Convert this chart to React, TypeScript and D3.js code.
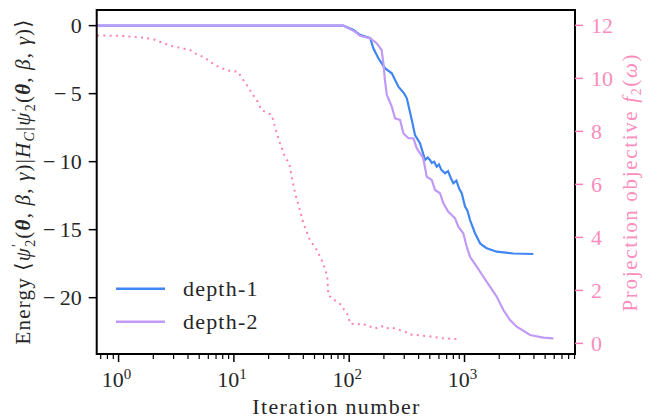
import React from 'react'
import * as d3 from 'd3'

// iteration / energy for the two circuit depths (left axis)
const depth1Iter = [0.65, 89, 109, 124, 152, 162, 179, 204, 234, 267, 300, 316, 349, 372, 411, 430, 455, 480, 502, 520, 545, 574, 600, 630, 678, 720, 760, 800, 850, 900, 946, 1010, 1060, 1116, 1233, 1364, 1460, 1559, 1902, 2651, 3953]
const depth1Energy = [0, 0, -0.32, -0.68, -0.92, -1.66, -2.4, -3.13, -3.5, -4.49, -5.0, -5.34, -6.93, -8.04, -8.65, -9.2, -9.87, -9.7, -9.87, -10.1, -10.0, -10.37, -10.2, -10.6, -10.85, -10.7, -11.2, -11.59, -11.4, -12.0, -12.32, -13.3, -13.6, -14.29, -15.26, -16.0, -16.2, -16.37, -16.62, -16.75, -16.79]

const depth2Iter = [0.65, 89, 112, 124, 152, 173, 191, 198, 204, 212, 234, 250, 276, 295, 326, 360, 385, 439, 470, 520, 555, 613, 655, 724, 828, 884, 976, 1045, 1116, 1276, 1456, 1664, 1902, 2172, 2482, 2837, 3699, 4823, 5893]
const depth2Energy = [0, 0, -0.44, -0.74, -0.93, -1.29, -1.79, -2.77, -3.99, -5.1, -5.95, -6.81, -6.93, -7.91, -8.28, -8.28, -9.01, -9.75, -11.1, -11.35, -12.08, -12.32, -13.06, -13.68, -14.16, -14.78, -15.27, -16.25, -16.99, -17.72, -18.46, -19.19, -19.93, -20.91, -21.64, -22.13, -22.74, -22.94, -22.99]

// projection objective (right axis)
const projIter = [0.65, 1.1, 1.59, 2.0, 2.29, 2.89, 3.64, 4.16, 4.6, 5.61, 6.86, 8.66, 10.9, 11.5, 13.3, 14.1, 15.8, 17.4, 21.3, 22.7, 25.1, 27.7, 30.2, 31.7, 33.9, 37.4, 40, 45.7, 52.2, 59.6, 64.6, 65.9, 78, 86, 92, 98, 101.6, 116, 132, 142, 157, 167, 191, 204, 234, 267, 305, 337, 411, 536, 655, 914]
const projValue = [11.62, 11.6, 11.54, 11.48, 11.38, 11.22, 11.13, 11.07, 10.94, 10.78, 10.5, 10.31, 10.25, 10.06, 9.68, 9.47, 9.18, 8.8, 8.62, 8.17, 7.56, 7.04, 6.79, 6.29, 5.67, 5.03, 4.53, 3.9, 3.53, 3.02, 2.51, 1.82, 1.57, 1.45, 1.19, 1.07, 0.75, 0.71, 0.75, 0.65, 0.62, 0.56, 0.65, 0.56, 0.6, 0.52, 0.44, 0.34, 0.3, 0.25, 0.19, 0.16]

const leftTicks = [0, -5, -10, -15, -20]
const rightTicks = [0, 2, 4, 6, 8, 10, 12]
const xMajor = [1, 10, 100, 1000]

const W = 657
const H = 418
const M = { left: 96.7, right: 575, top: 10, bottom: 354 }
const FONT = "'Liberation Serif', 'DejaVu Serif', serif"
const BLUE = '#3f86f2'
const PURPLE = '#c09af6'
const PINK = '#ff7fb5'
const PINK_TXT = '#fa8dbd'
const INK = '#262626'

export default function App() {
  const x = d3.scaleLog().domain([0.646, 9080]).range([M.left, M.right])
  const yL = d3.scaleLinear().domain([-24.14, 1.15]).range([M.bottom, M.top])
  const yR = d3.scaleLinear().domain([-0.4, 12.58]).range([M.bottom, M.top])

  const lineL = d3.line<[number, number]>().x(d => x(d[0])).y(d => yL(d[1]))
  const lineR = d3.line<[number, number]>().x(d => x(d[0])).y(d => yR(d[1]))
  const zip = (a: number[], b: number[]) => a.map((v, i) => [v, b[i]] as [number, number])

  const minor: number[] = []
  for (let e = -1; e <= 3; e++) {
    for (let k = 2; k <= 9; k++) {
      const v = k * Math.pow(10, e)
      if (v >= 0.646 && v <= 9080) minor.push(v)
    }
  }

  return (
    <svg width={W} height={H} style={{ position: 'absolute', left: 0, top: 0, background: '#fff' }} fontFamily={FONT}>
      <defs>
        <clipPath id="plot">
          <rect x={M.left} y={M.top} width={M.right - M.left} height={M.bottom - M.top} />
        </clipPath>
      </defs>

      <g clipPath="url(#plot)">
        <path d={lineR(zip(projIter, projValue)) || ''} fill="none" stroke={PINK} strokeWidth={2} strokeDasharray="2 4.3" />
        <path d={lineL(zip(depth1Iter, depth1Energy)) || ''} fill="none" stroke={BLUE} strokeWidth={2.2} />
        <path d={lineL(zip(depth2Iter, depth2Energy)) || ''} fill="none" stroke={PURPLE} strokeWidth={2.2} />
      </g>

      {/* spines */}
      <rect x={M.left} y={M.top} width={M.right - M.left} height={M.bottom - M.top} fill="none" stroke="#000" strokeWidth={2} />

      {/* x axis */}
      {minor.map(v => (
        <line key={'m' + v} x1={x(v)} x2={x(v)} y1={M.bottom} y2={M.bottom + 5} stroke="#000" strokeWidth={1.2} />
      ))}
      {xMajor.map((v, i) => (
        <g key={'x' + v}>
          <line x1={x(v)} x2={x(v)} y1={M.bottom} y2={M.bottom + 8} stroke="#000" strokeWidth={1.5} />
          <text x={x(v) - 2} y={387} fontSize={22} textAnchor="middle" fill={INK}>
            10<tspan fontSize={15} dy={-8}>{i}</tspan>
          </text>
        </g>
      ))}
      <text x={(M.left + M.right) / 2} y={414} fontSize={22} textAnchor="middle" fill={INK} textLength={167} lengthAdjust="spacing">Iteration number</text>

      {/* left axis */}
      {leftTicks.map(v => (
        <g key={'l' + v}>
          <line x1={M.left - 8} x2={M.left} y1={yL(v)} y2={yL(v)} stroke="#000" strokeWidth={1.5} />
          <text x={M.left - 15} y={yL(v) + 7.5} fontSize={22} textAnchor="end" fill={INK}>
            {v < 0 ? '\u2212\u2009' + Math.abs(v) : v}
          </text>
        </g>
      ))}
      <text transform={`translate(30,182) rotate(-90)`} fontSize={21} textAnchor="middle" fill={INK} textLength={325} lengthAdjust="spacing">
        Energy{'  \u27E8'}
        <tspan fontStyle="italic">ψ</tspan>
        <tspan fontSize={14} dy={-8}>′</tspan>
        <tspan fontSize={14} dy={13} dx={-4}>2</tspan>
        <tspan dy={-5}>(</tspan>
        <tspan fontWeight="bold" fontStyle="italic">θ</tspan>
        <tspan>, </tspan>
        <tspan fontStyle="italic">β</tspan>
        <tspan>, </tspan>
        <tspan fontStyle="italic">γ</tspan>
        <tspan>)|</tspan>
        <tspan fontStyle="italic">H</tspan>
        <tspan fontSize={14} fontStyle="italic" dy={4}>C</tspan>
        <tspan dy={-4}>|</tspan>
        <tspan fontStyle="italic">ψ</tspan>
        <tspan fontSize={14} dy={-8}>′</tspan>
        <tspan fontSize={14} dy={13} dx={-4}>2</tspan>
        <tspan dy={-5}>(</tspan>
        <tspan fontWeight="bold" fontStyle="italic">θ</tspan>
        <tspan>, </tspan>
        <tspan fontStyle="italic">β</tspan>
        <tspan>, </tspan>
        <tspan fontStyle="italic">γ</tspan>
        <tspan>){'\u27E9'}</tspan>
      </text>

      {/* right axis */}
      {rightTicks.map(v => (
        <g key={'r' + v}>
          <line x1={M.right} x2={M.right + 8} y1={yR(v)} y2={yR(v)} stroke={PINK} strokeWidth={1.5} />
          <text x={M.right + 16} y={yR(v) + 7.5} fontSize={22} fill={PINK_TXT}>{v}</text>
        </g>
      ))}
      <text transform={`translate(637,183) rotate(-90)`} fontSize={21} textAnchor="middle" fill={PINK_TXT} textLength={257} lengthAdjust="spacing">
        Projection objective <tspan fontStyle="italic">f</tspan>
        <tspan fontSize={14} dy={4}>2</tspan>
        <tspan dy={-4}>(</tspan>
        <tspan fontStyle="italic">ω</tspan>
        <tspan>)</tspan>
      </text>

      {/* legend */}
      <line x1={116} x2={165} y1={288.7} y2={288.7} stroke={BLUE} strokeWidth={2.5} />
      <text x={183} y={296} fontSize={22} fill={INK} letterSpacing={1.2}>depth-1</text>
      <line x1={116} x2={165} y1={321.7} y2={321.7} stroke={PURPLE} strokeWidth={2.5} />
      <text x={183} y={329} fontSize={22} fill={INK} letterSpacing={1.2}>depth-2</text>
    </svg>
  )
}
